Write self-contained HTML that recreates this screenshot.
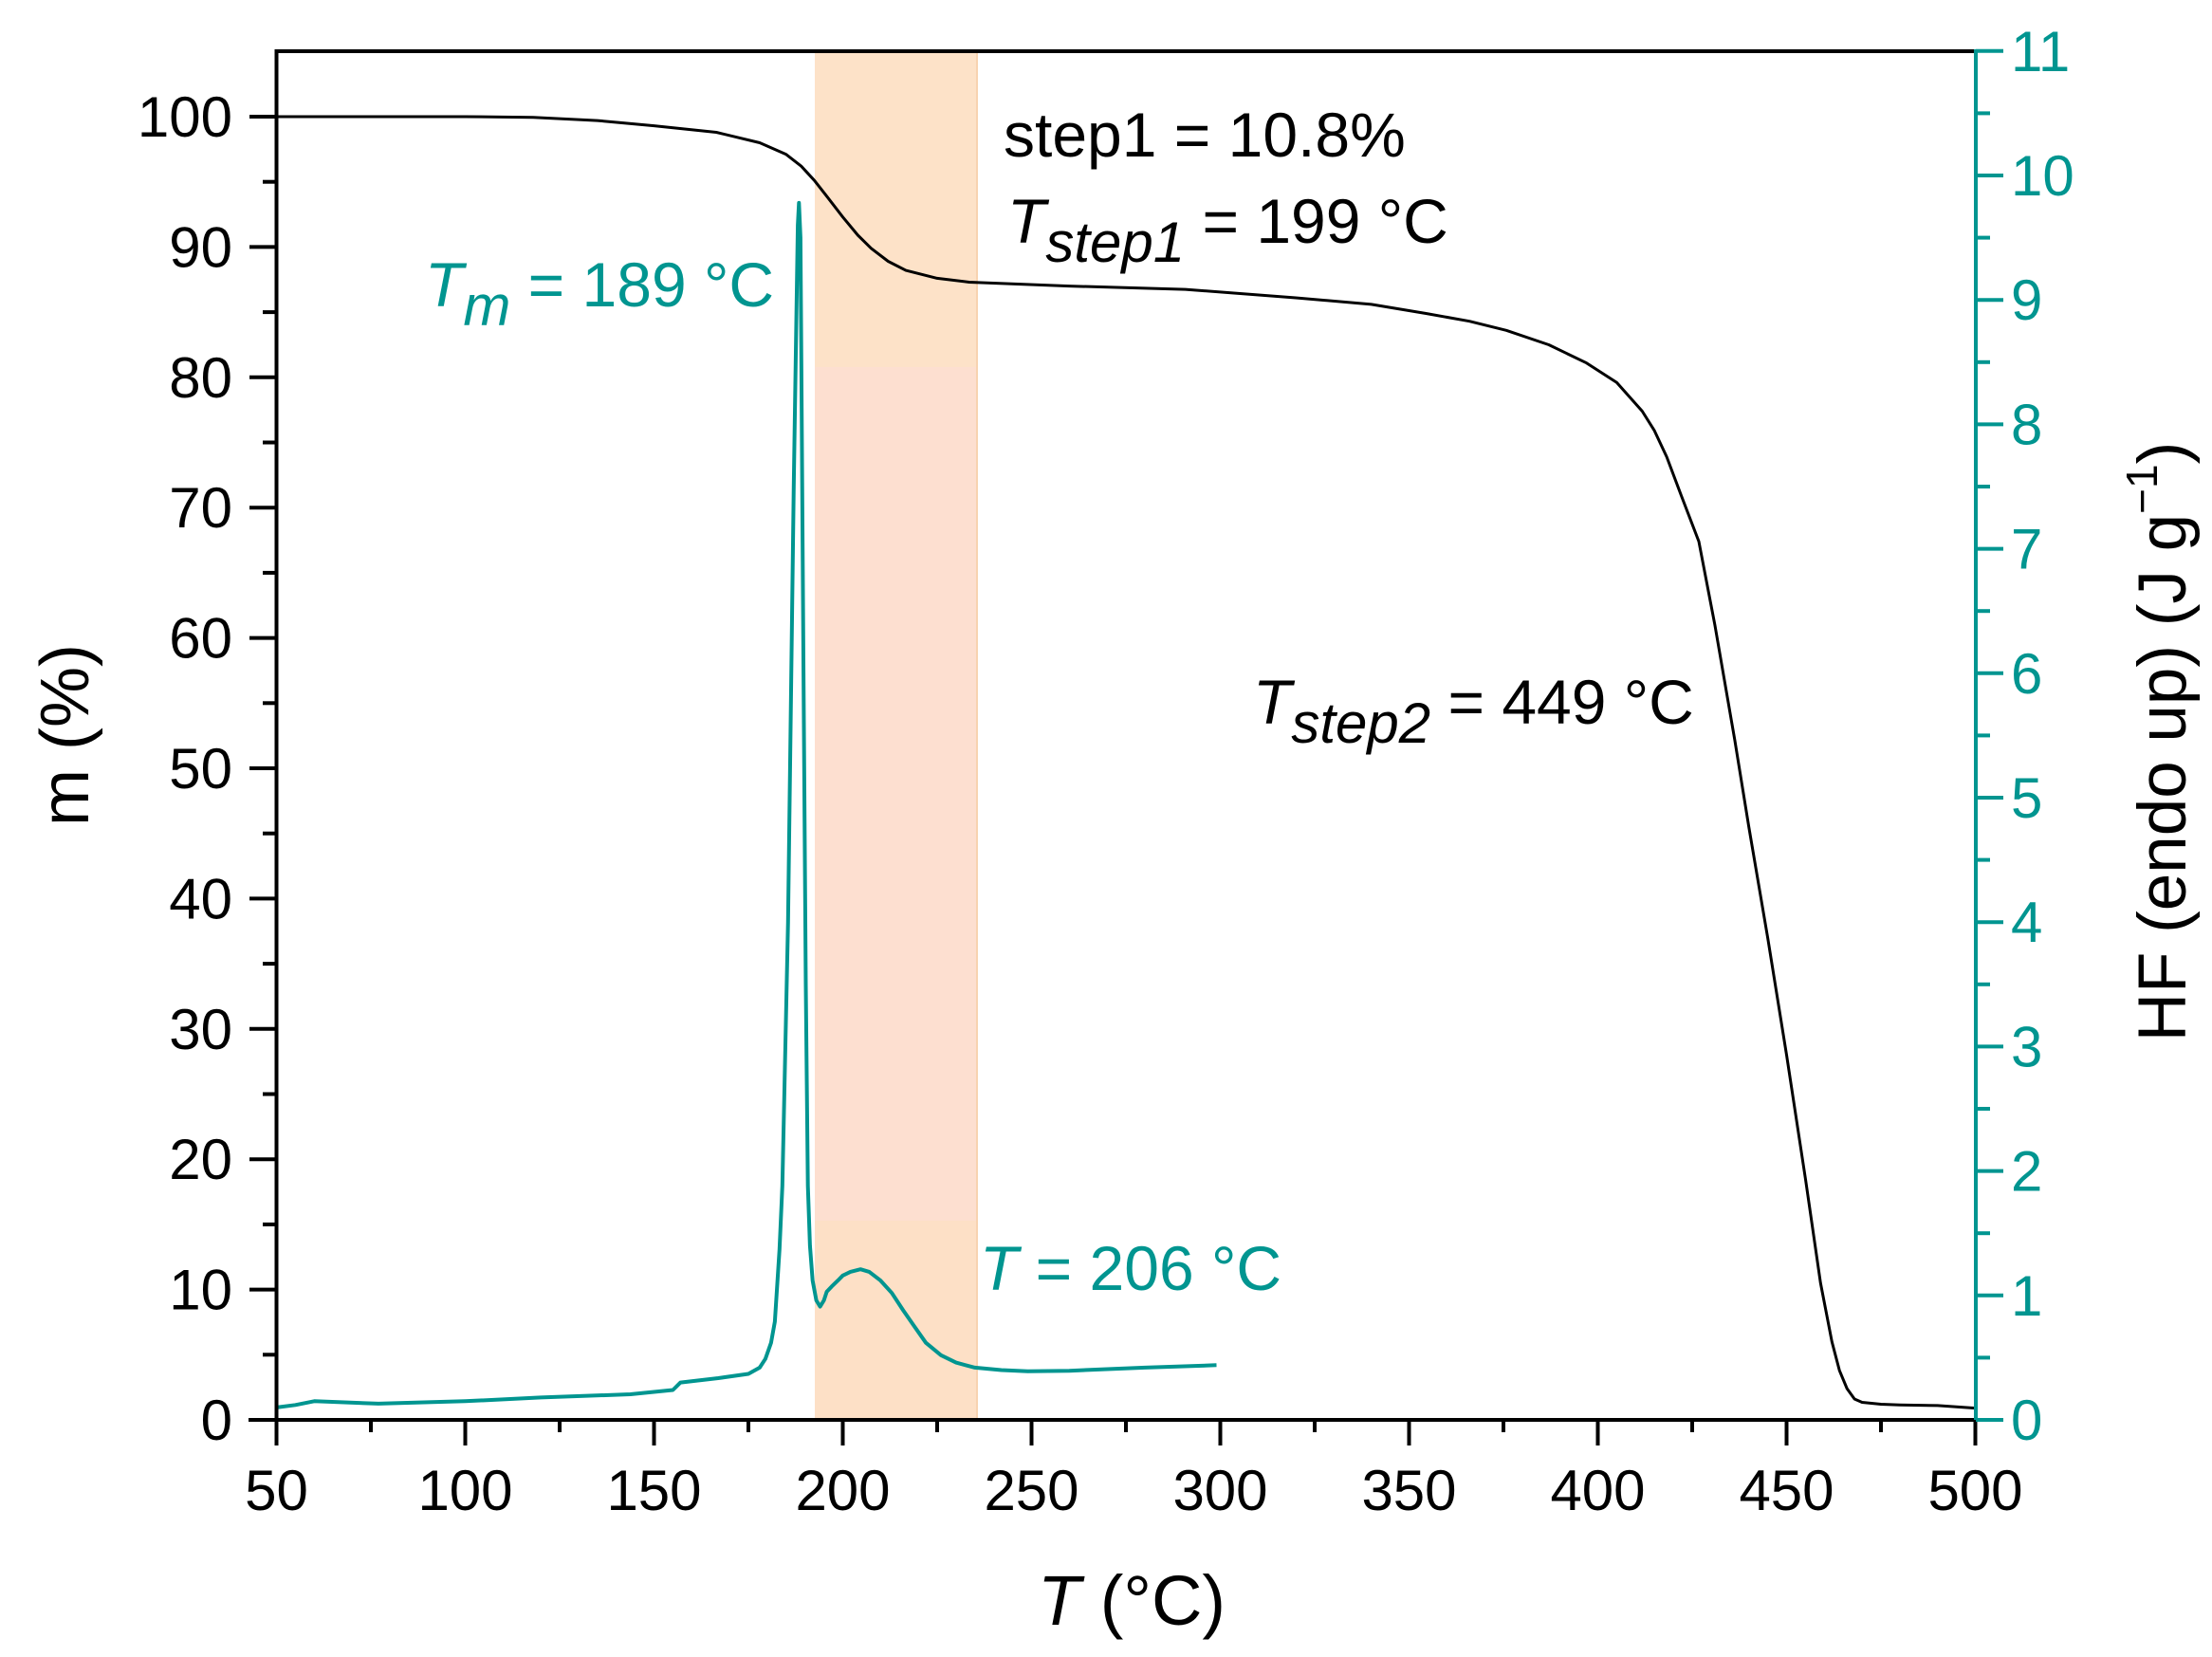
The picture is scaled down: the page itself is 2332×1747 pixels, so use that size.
<!DOCTYPE html>
<html><head><meta charset="utf-8"><style>
html,body{margin:0;padding:0;background:#fff}
svg{display:block}
text{font-family:"Liberation Sans",Arial,sans-serif}
</style></head><body>
<svg width="2332" height="1747" viewBox="0 0 2332 1747" xmlns="http://www.w3.org/2000/svg">
<rect width="2332" height="1747" fill="#fff"/>
<rect x="859" y="56" width="171" height="331" fill="#fde2c8"/>
<rect x="859" y="387" width="171" height="900" fill="#fddfd0"/>
<rect x="859" y="1287" width="171" height="209" fill="#fde0c6"/>
<line x1="1030" y1="56" x2="1030" y2="1496" stroke="#f8d3b0" stroke-width="2"/>
<g id="plot"></g>
<g stroke="#000" stroke-width="4" fill="none">
<line x1="290" y1="54" x2="2083" y2="54"/>
<line x1="291.5" y1="52" x2="291.5" y2="1499"/>
<line x1="262" y1="1497" x2="2083" y2="1497"/>
</g>
<line x1="2083" y1="52" x2="2083" y2="1499" stroke="#009590" stroke-width="4"/>
<g id="ticks"></g>
<g font-size="60" fill="#000" text-anchor="end" id="ylab"></g>
<g font-size="60" fill="#009590" text-anchor="start" id="rlab"></g>
<g font-size="60" fill="#000" text-anchor="middle" id="xlab"></g>
<text x="1193" y="1713" font-size="74" text-anchor="middle"><tspan font-style="italic">T</tspan> (°C)</text>
<text transform="translate(93,775) rotate(-90)" font-size="72" text-anchor="middle">m (%)</text>
<text transform="translate(2304,782) rotate(-90)" font-size="71" text-anchor="middle">HF (endo up) (J g<tspan font-size="46" dy="-30">−1</tspan><tspan dy="30">)</tspan></text>
<text x="1058" y="165" font-size="66">step1 = 10.8%</text>
<text x="1062" y="256" font-size="66"><tspan font-style="italic">T</tspan><tspan font-style="italic" font-size="60" dy="20">step1</tspan><tspan dy="-20"> = 199 °C</tspan></text>
<text x="1321" y="763" font-size="66"><tspan font-style="italic">T</tspan><tspan font-style="italic" font-size="60" dy="20">step2</tspan><tspan dy="-20"> = 449 °C</tspan></text>
<text x="448" y="323" font-size="66" fill="#009590"><tspan font-style="italic">T</tspan><tspan font-style="italic" font-size="60" dy="20">m</tspan><tspan dy="-20"> = 189 °C</tspan></text>
<text x="1033" y="1360" font-size="66" fill="#009590"><tspan font-style="italic">T</tspan> = 206 °C</text>
</svg>
<script>
(function(){
var NS="http://www.w3.org/2000/svg";
function X(t){return 291.5+(t-50)*3.98;}
function YM(m){return 1497-m*13.74;}
function YH(h){return 1497-h*131.2;}
function el(p,n,a,txt){var e=document.createElementNS(NS,n);for(var k in a)e.setAttribute(k,a[k]);if(txt!==undefined)e.textContent=txt;document.getElementById(p).appendChild(e);return e;}
var m=[[50,100],[100,100],[118,99.95],[135,99.7],[150,99.3],[166.5,98.8],[178,98],[185,97.1],[189,96.2],[192.5,95.1],[196,93.8],[200,92.3],[204,90.9],[207.5,89.9],[212,88.9],[216.7,88.2],[225,87.6],[233.5,87.3],[260,87.0],[290.75,86.75],[320,86.1],[340,85.6],[354.5,84.9],[366,84.3],[375.75,83.6],[387,82.5],[397,81.1],[405,79.6],[411.75,77.4],[415,75.9],[418.25,73.9],[422,71],[426.75,67.4],[431,61],[436.25,52.2],[440,45.5],[445,37],[450,28],[455,18.5],[459,10.5],[462,6],[464,3.8],[466,2.4],[468,1.6],[470,1.35],[475,1.2],[480,1.15],[490,1.1],[500,0.9]];
var h=[[50,0.1],[55,0.12],[60,0.15],[77,0.13],[100,0.15],[120,0.18],[143.75,0.206],[150,0.225],[155,0.24],[156,0.27],[157,0.3],[167,0.335],[175,0.37],[178,0.42],[179.5,0.49],[181,0.62],[182,0.79],[183.25,1.37],[184,1.88],[185.5,4],[187,7.5],[188.1,9.6],[188.4,9.78],[188.8,9.5],[189.6,6],[190.2,3.5],[190.75,1.88],[191.3,1.4],[192,1.12],[193,0.96],[194,0.91],[195,0.96],[195.75,1.03],[197,1.07],[198.7,1.12],[200,1.16],[202,1.19],[204.7,1.21],[207,1.19],[210,1.12],[213,1.02],[216,0.88],[219,0.75],[222,0.62],[226,0.52],[230,0.46],[235,0.42],[242,0.4],[249,0.39],[260,0.395],[280,0.42],[299,0.44]];
function pts(a,f){return a.map(function(p){return X(p[0]).toFixed(1)+","+f(p[1]).toFixed(1);}).join(" ");}
el("plot","polyline",{points:pts(m,YM),fill:"none",stroke:"#000","stroke-width":"3","stroke-linejoin":"round"});
el("plot","polyline",{points:pts(h,YH),fill:"none",stroke:"#009590","stroke-width":"4","stroke-linejoin":"round"});
var t;
for(t=50;t<=500;t+=25){var maj=(t%50==0);el("ticks","line",{x1:X(t),x2:X(t),y1:1497,y2:maj?1524:1510,stroke:"#000","stroke-width":"4"});if(maj)el("xlab","text",{x:X(t),y:1592},String(t));}
for(t=0;t<=100;t+=5){var mj=(t%10==0);el("ticks","line",{x1:291.5,x2:mj?263:277,y1:YM(t),y2:YM(t),stroke:"#000","stroke-width":"4"});if(mj)el("ylab","text",{x:245,y:YM(t)+21},String(t));}
for(t=0;t<=11;t+=0.5){var mj2=(t%1==0);el("ticks","line",{x1:2083,x2:mj2?2112:2098,y1:YH(t),y2:YH(t),stroke:"#009590","stroke-width":"4"});if(mj2)el("rlab","text",{x:2120,y:YH(t)+21},String(t));}
})();
</script>
</body></html>
